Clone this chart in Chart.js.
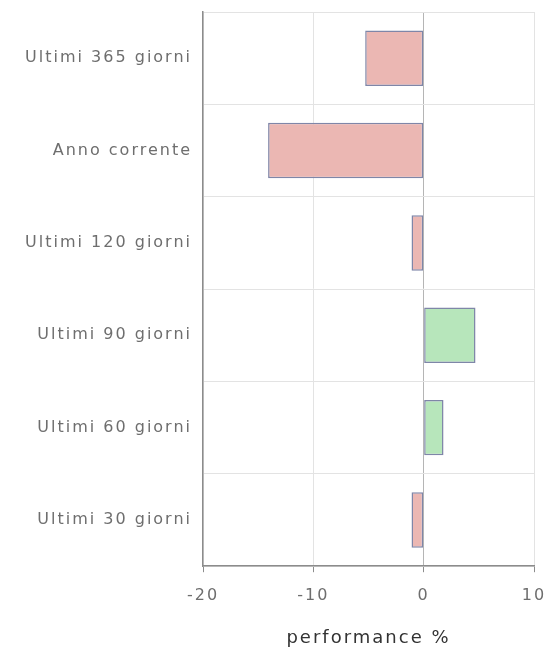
<!DOCTYPE html>
<html>
<head>
<meta charset="utf-8">
<script src="https://cdn.jsdelivr.net/npm/chart.js@4.4.0/dist/chart.umd.min.js"></script>
<style>
    html, body { margin: 0; padding: 0; background: #ffffff; }
    #wrap { width: 548px; height: 649px; position: relative; }
</style>
</head>
<body>
<div id="wrap"><canvas id="perfChart"></canvas></div>
<script>
const periods = ['Ultimi 365 giorni', 'Anno corrente', 'Ultimi 120 giorni', 'Ultimi 90 giorni', 'Ultimi 60 giorni', 'Ultimi 30 giorni'];
const performance = [-5.3, -14.1, -1.1, 4.7, 1.8, -1.1];
const xTicks = [-20, -10, 0, 10];

const colors = {
    negFill: '#ebb7b3',
    posFill: '#b7e6bb',
    border: '#7f86a8',
    label: '#6e6e6e',
    title: '#333333',
    grid: '#e3e3e3',
    zero: '#b5b5b5',
    axis: '#8c8c8c'
};

const spacing = {
    id: 'spacing',
    beforeUpdate(chart) { chart.ctx.letterSpacing = '2px'; },
    beforeDraw(chart) { chart.ctx.letterSpacing = '2px'; }
};

new Chart(document.getElementById('perfChart').getContext('2d'), {
    type: 'bar',
    data: {
        labels: periods,
        datasets: [{
            data: performance,
            backgroundColor: performance.map(v => v < 0 ? colors.negFill : colors.posFill),
            borderColor: colors.border,
            borderWidth: 1.5,
            borderSkipped: false,
            barPercentage: 0.6,
            categoryPercentage: 1
        }]
    },
    options: {
        indexAxis: 'y',
        responsive: true,
        maintainAspectRatio: false,
        animation: false,
        layout: { padding: { top: 12, right: 14, left: 0, bottom: 0 } },
        plugins: {
            legend: { display: false },
            tooltip: { enabled: false }
        },
        scales: {
            x: {
                min: -20,
                max: 10,
                afterBuildTicks: axis => { axis.ticks = xTicks.map(v => ({ value: v })); },
                afterFit: axis => { axis.paddingLeft = 0; axis.paddingRight = 0; },
                grid: {
                    color: ctx => ctx.tick && ctx.tick.value === 0 ? colors.zero : colors.grid,
                    tickColor: colors.axis,
                    tickLength: 6
                },
                border: { color: colors.axis, width: 1.5 },
                ticks: {
                    color: colors.label,
                    font: { family: 'DejaVu Sans', size: 16 },
                    padding: 14,
                    maxRotation: 0
                },
                title: {
                    display: true,
                    text: 'performance %',
                    color: colors.title,
                    font: { family: 'DejaVu Sans', size: 18 },
                    padding: { top: 8, bottom: 0 }
                }
            },
            y: {
                afterFit: axis => {
                    axis.width = 203;
                    axis.paddingTop = 0;
                    axis.paddingBottom = 0;
                },
                grid: { color: colors.grid, drawTicks: false, offset: true },
                border: { color: colors.axis, width: 1.5 },
                ticks: {
                    color: colors.label,
                    font: { family: 'DejaVu Sans', size: 16 },
                    padding: 11
                }
            }
        }
    },
    plugins: [spacing]
});
</script>
</body>
</html>
